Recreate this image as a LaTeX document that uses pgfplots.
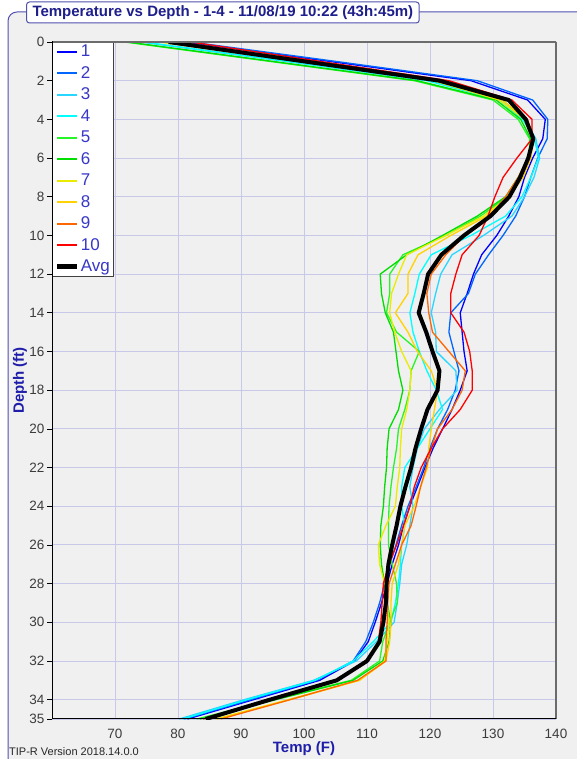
\documentclass[border=0pt]{standalone}
\usepackage{pgfplots}
\usepackage{pgfplotstable}
\pgfplotsset{compat=1.18}
\usepackage{fontspec}
\setmainfont{Liberation Sans}
\definecolor{c1}{RGB}{0,0,255}
\definecolor{c2}{RGB}{0,102,255}
\definecolor{c3}{RGB}{40,215,255}
\definecolor{c4}{RGB}{0,255,255}
\definecolor{c5}{RGB}{40,245,40}
\definecolor{c6}{RGB}{0,222,0}
\definecolor{c7}{RGB}{235,235,0}
\definecolor{c8}{RGB}{255,210,0}
\definecolor{c9}{RGB}{255,102,0}
\definecolor{c10}{RGB}{255,0,0}
\definecolor{plotbg}{RGB}{240,240,240}
\definecolor{gridc}{RGB}{200,200,232}
\definecolor{tickc}{RGB}{60,60,60}
\definecolor{labelc}{RGB}{30,30,170}
\definecolor{legc}{RGB}{55,55,200}
\definecolor{framec}{RGB}{80,80,175}
\definecolor{titlec}{RGB}{30,30,140}

\pgfplotstableread{
D s1 s2 s3 s4 s5 s6 s7 s8 s9 s10 avg
0 81 82 74 74.5 71.5 72 77 78 80 82 78.5
1 104 105 97 97.5 94.5 95 99 100 101 102.5 100
2 126.5 127.5 120 119.5 117.5 118 120.5 121 122 123 121.5
3 135.5 136.3 131.5 131 130 130.5 131 131.5 132.5 133 132.5
4 138.3 138.7 135 134.7 134 134.4 135 135.2 135.5 136.2 135.2
5 137.9 138.6 136.8 136.6 135.8 136 136.3 136.4 136.2 136.2 136.4
6 136.3 137.1 137.4 137.2 135.8 135.6 136 136 135.5 133.8 135.6
7 135 136 136.5 136 134.4 134 134.6 134.8 134 131.6 134.3
8 134.1 135 135 134.6 132.3 132 132.5 132.5 132 130.3 132.6
9 132.5 133.6 133 132 128 127.5 128.5 129 129.5 129.2 129.6
10 130.6 131.6 128.5 126.5 122.5 122 122.5 123.3 125.5 127.8 125.4
11 128.2 129.3 123.5 120.2 115.7 116.3 116.3 118.1 122.5 125.1 121.8
12 126.9 127.2 121.7 118.3 113.6 112.1 115 116.5 120.2 124.1 119.7
13 125.9 126.1 120.9 117.6 113.6 112.3 113.9 116.5 119.5 123.3 119
14 124.8 123.3 120.2 116.8 113.1 112.9 113.6 114.5 119.8 123.3 118.2
15 125.1 123 120.9 117.3 114.7 114.2 114.4 116.5 120.4 125.4 119.4
16 125.4 123.8 121 118.3 118.3 114.6 115.5 118 123 126.3 120.4
17 125.9 124.6 124.1 119.5 117 115 117 120.2 125.6 126.7 121.5
18 124.8 124 124.3 121 116.8 115.7 116.8 121.2 125.1 126.7 121.2
19 123.5 122.8 121.5 122 116 115 116.3 120.7 123.5 124.8 119.6
20 122 121.2 119.1 120 115 113.5 115.5 120.2 121.2 122 118.6
21 120.5 120 118 118 114.7 113.2 115.3 119.8 120.2 120.2 117.7
22 119.2 119 117.3 116 114.2 113.1 115.2 119.6 119.4 118.6 117
23 118 117.8 116.8 115.5 113.8 112.8 114.8 118.5 118.5 117.5 116.1
24 116.8 116.5 117.3 115.5 113.5 112.6 114.5 117.5 117.8 116.8 115.3
25 115.8 115.5 116.8 116 113.4 112.2 113 116 117 115.8 114.7
26 115 114.6 116.3 115.5 113.4 112.1 111.8 115.5 115.5 114.7 114
27 114 113.6 115.5 115.3 114 112.3 112 115 114.5 113.5 113.4
28 113.2 112.8 115.2 115 114.7 112.8 112.8 114 113.5 112.6 113.1
29 112.3 112 114.8 114.5 114.8 113.2 113.2 113.8 113.3 112.4 113
30 111.3 111 114.3 113.8 113.6 113.8 113.5 113.8 113.2 112.2 112.6
31 110.2 109.8 111.5 111 112.5 113.5 113.2 113.6 113 111.8 112
32 108 107.8 108.3 107.8 112 112.5 112.8 113 113 110 110
33 102.5 102 101.5 101.8 107.5 107.8 108.8 108.8 108.5 104.9 105.2
34 92 91.5 90.5 91 95 95.5 97.5 97.8 97.8 94.5 94.6
35 81.5 81 80.2 80.8 83 83.5 86 86.2 86.8 84 84.4
}\data

\begin{document}
\begin{tikzpicture}[x=1pt,y=1pt]
\useasboundingbox (0,0) rectangle (577,759);
\fill[white] (0,0) rectangle (577,759);
\filldraw[fill=plotbg, draw=framec, line width=1pt, rounded corners=9pt] (8,-20) rectangle (600,747);
\begin{axis}[
  at={(52pt,40pt)}, anchor=south west,
  width=504pt, height=677pt, scale only axis,
  xmin=60, xmax=140, ymin=0, ymax=35, y dir=reverse,
  xtick={70,80,...,140}, ytick={0,2,...,34,35},
  grid=major, major grid style={gridc, line width=0.9pt},
  axis background/.style={fill=plotbg},
  axis line style={draw=none},
  xtick style={draw=none},
  ytick style={draw=black, line width=0.7pt},
  major tick length=5pt, tick align=outside, ytick pos=left, xtick pos=bottom,
  ticklabel style={font=\fontsize{13.5}{13.5}\selectfont, text=tickc},
  /pgf/number format/assume math mode=true,
  xticklabel style={anchor=base, yshift=-14pt},
  yticklabel style={xshift=1pt},
  xlabel={Temp (F)}, ylabel={Depth (ft)},
  label style={font=\bfseries\fontsize{15}{15}\selectfont, text=labelc},
  xlabel style={at={(axis description cs:0.5,0)}, anchor=base, yshift=-33pt},
  ylabel style={at={(axis description cs:0,0.5)}, anchor=center, yshift=32pt},
  legend cell align=left,
  legend image code/.code={\draw[#1, line width=2pt] (0pt,0pt) -- (20pt,0pt);},
  legend style={at={(0,1)}, anchor=north west, draw=black!75, line width=0.8pt, fill=white,
    font=\fontsize{17}{17}\selectfont, text=legc, inner xsep=2pt, inner ysep=1pt,
    nodes={inner sep=1.5pt, text height=12pt, text depth=2pt}, row sep=4.5pt},
]
\addplot[c1, line width=1.3pt] table[x=s1, y=D]{\data};
\addlegendentry{1}
\addplot[c2, line width=1.3pt] table[x=s2, y=D]{\data};
\addlegendentry{2}
\addplot[c3, line width=1.3pt] table[x=s3, y=D]{\data};
\addlegendentry{3}
\addplot[c4, line width=1.3pt] table[x=s4, y=D]{\data};
\addlegendentry{4}
\addplot[c5, line width=1.3pt] table[x=s5, y=D]{\data};
\addlegendentry{5}
\addplot[c6, line width=1.3pt] table[x=s6, y=D]{\data};
\addlegendentry{6}
\addplot[c7, line width=1.3pt] table[x=s7, y=D]{\data};
\addlegendentry{7}
\addplot[c8, line width=1.3pt] table[x=s8, y=D]{\data};
\addlegendentry{8}
\addplot[c9, line width=1.3pt] table[x=s9, y=D]{\data};
\addlegendentry{9}
\addplot[c10, line width=1.3pt] table[x=s10, y=D]{\data};
\addlegendentry{10}
\addplot[black, line width=4pt, line join=round,
  legend image code/.code={\draw[black, line width=5pt] (0pt,0pt) -- (20pt,0pt);}] table[x=avg, y=D]{\data};
\addlegendentry{Avg}
\end{axis}
\draw[gray!85!black, line width=1.3pt] (52,717) -- (556,717);
\draw[gray!85!black, line width=2pt] (556,717) -- (556,40);
\draw[black, line width=1pt] (52,717.5) -- (52,40) -- (556,40);
\node[draw=framec, fill=white, line width=1pt, rounded corners=3pt, font=\bfseries\fontsize{15}{15}\selectfont, text=titlec, inner xsep=6pt, minimum height=21pt, anchor=west] at (26,746.5) {Temperature vs Depth - 1-4 - 11/08/19 10:22 (43h:45m)};
\node[anchor=base west, font=\fontsize{11}{11}\selectfont, text=black!85, inner sep=0pt] at (9,3) {TIP-R Version 2018.14.0.0};
\end{tikzpicture}
\end{document}
